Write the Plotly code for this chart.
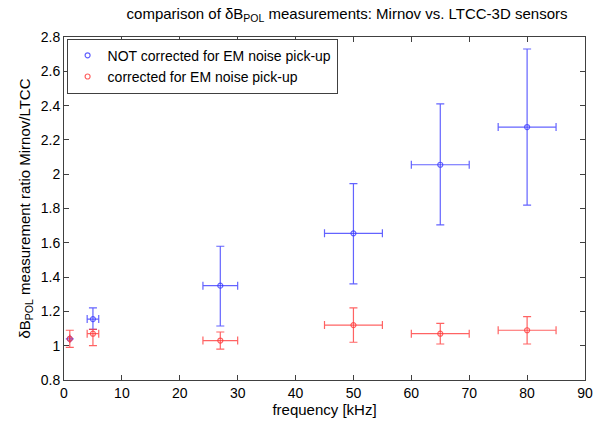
import plotly.graph_objects as go

# NOT corrected for EM noise pick-up
freq_raw = [1, 5, 27, 50, 65, 80]
ratio_raw = [1.04, 1.155, 1.35, 1.655, 2.055, 2.275]
err_up_raw = [0, 0.065, 0.23, 0.29, 0.355, 0.455]
err_dn_raw = [0, 0.06, 0.235, 0.295, 0.35, 0.455]
ferr_raw = [0, 1, 3, 5, 5, 5]

# corrected for EM noise pick-up
freq_cor = [1, 5, 27, 50, 65, 80]
ratio_cor = [1.04, 1.07, 1.03, 1.12, 1.07, 1.09]
err_up_cor = [0.05, 0.025, 0.05, 0.10, 0.06, 0.08]
err_dn_cor = [0.05, 0.07, 0.05, 0.10, 0.06, 0.08]
ferr_cor = [0, 1, 3, 5, 5, 5]

blue = "rgba(60,60,255,0.8)"
red = "rgba(255,60,60,0.8)"

fig = go.Figure()
fig.add_trace(go.Scatter(
    x=freq_raw, y=ratio_raw, mode="markers",
    name="NOT corrected for EM noise pick-up",
    marker=dict(symbol="circle-open", size=5, color=blue, line=dict(width=1.2)),
    error_y=dict(type="data", symmetric=False, array=err_up_raw, arrayminus=err_dn_raw,
                 color=blue, thickness=1.2, width=4),
    error_x=dict(type="data", array=ferr_raw, color=blue, thickness=1.2, width=4),
))
fig.add_trace(go.Scatter(
    x=freq_cor, y=ratio_cor, mode="markers",
    name="corrected for EM noise pick-up",
    marker=dict(symbol="circle-open", size=5, color=red, line=dict(width=1.2)),
    error_y=dict(type="data", symmetric=False, array=err_up_cor, arrayminus=err_dn_cor,
                 color=red, thickness=1.2, width=4),
    error_x=dict(type="data", array=ferr_cor, color=red, thickness=1.2, width=4),
))

axis_style = dict(showline=True, linecolor="#404040", linewidth=1, mirror="ticks",
                  ticks="inside", ticklen=5, tickcolor="#404040", showgrid=False,
                  zeroline=False, tickfont=dict(size=14, color="black"))

fig.update_layout(
    width=611, height=423,
    margin=dict(l=64, r=26, t=37, b=40),
    paper_bgcolor="white", plot_bgcolor="white",
    font=dict(family="Liberation Sans, Arial", color="black"),
    title=dict(text="comparison of \u03b4B<sub>POL</sub> measurements: Mirnov vs. LTCC-3D sensors",
               x=0.568, xanchor="center", y=0.98, yanchor="top", font=dict(size=15)),
    xaxis=dict(range=[0, 90], dtick=10,
               title=dict(text="frequency [kHz]", font=dict(size=15), standoff=0),
               **axis_style),
    yaxis=dict(range=[0.8, 2.8], dtick=0.2,
               title=dict(text="\u03b4B<sub>POL</sub> measurement ratio Mirnov/LTCC",
                          font=dict(size=15), standoff=6),
               **axis_style),
    legend=dict(x=0.005, y=0.995, xanchor="left", yanchor="top",
                bordercolor="#404040", borderwidth=1, bgcolor="white",
                font=dict(size=14), tracegroupgap=0, itemwidth=30),
)

# drop the browser's default page margin so the figure sits at 0,0
fig.write_html("out.html", config={"displayModeBar": False},
               post_script="document.body.style.margin='0';")
